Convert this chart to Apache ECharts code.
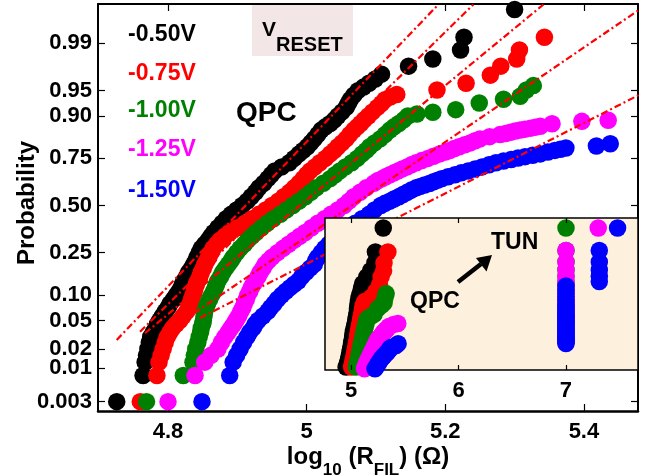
<!DOCTYPE html>
<html>
<head>
<meta charset="utf-8">
<script src="https://cdn.jsdelivr.net/npm/echarts@6/dist/echarts.min.js"></script>
<style>
  html, body { margin: 0; padding: 0; background: #fff; }
  #chart { width: 654px; height: 476px; }
</style>
</head>
<body>
<div id="chart"></div>
<script>
// Cumulative probability of filament resistance, one array per reset voltage.
// Each pair is [log10(R_FIL), cumulative probability].
const v050 = [[4.726,0.0025],[4.764,0.0075],[4.767,0.0125],[4.769,0.016],[4.771,0.02],[4.773,0.025],[4.775,0.03],[4.779,0.035],[4.783,0.04],[4.785,0.045],[4.788,0.05],[4.792,0.057],[4.796,0.065],[4.800,0.072],[4.803,0.08],[4.808,0.09],[4.812,0.10],[4.816,0.11],[4.819,0.12],[4.821,0.13],[4.823,0.14],[4.827,0.155],[4.830,0.17],[4.834,0.185],[4.837,0.20],[4.840,0.215],[4.842,0.23],[4.845,0.25],[4.848,0.27],[4.853,0.29],[4.858,0.31],[4.862,0.33],[4.866,0.35],[4.872,0.375],[4.878,0.40],[4.884,0.425],[4.891,0.45],[4.899,0.475],[4.907,0.50],[4.914,0.525],[4.920,0.55],[4.926,0.575],[4.931,0.60],[4.938,0.625],[4.944,0.65],[4.949,0.67],[4.954,0.69],[4.964,0.71],[4.975,0.73],[4.982,0.75],[4.989,0.77],[4.995,0.785],[5.001,0.80],[5.006,0.815],[5.011,0.83],[5.016,0.845],[5.021,0.86],[5.027,0.87],[5.034,0.88],[5.040,0.89],[5.045,0.90],[5.051,0.91],[5.057,0.92],[5.060,0.928],[5.063,0.935],[5.068,0.943],[5.074,0.95],[5.082,0.955],[5.090,0.96],[5.099,0.965],[5.108,0.97],[5.147,0.977],[5.182,0.982],[5.222,0.987],[5.227,0.992],[5.300,0.9975]];
const v075 = [[4.760,0.0025],[4.784,0.0075],[4.787,0.0125],[4.790,0.016],[4.793,0.02],[4.796,0.025],[4.799,0.03],[4.803,0.035],[4.807,0.04],[4.812,0.045],[4.817,0.05],[4.822,0.057],[4.827,0.065],[4.830,0.072],[4.832,0.08],[4.834,0.09],[4.836,0.10],[4.838,0.11],[4.839,0.12],[4.841,0.13],[4.843,0.14],[4.846,0.155],[4.848,0.17],[4.851,0.185],[4.853,0.20],[4.856,0.215],[4.859,0.23],[4.862,0.25],[4.865,0.27],[4.870,0.29],[4.875,0.31],[4.882,0.33],[4.889,0.35],[4.900,0.375],[4.911,0.40],[4.921,0.425],[4.931,0.45],[4.941,0.475],[4.950,0.50],[4.959,0.525],[4.967,0.55],[4.975,0.575],[4.982,0.60],[4.989,0.625],[4.995,0.65],[5.000,0.67],[5.005,0.69],[5.012,0.71],[5.019,0.73],[5.027,0.75],[5.034,0.77],[5.040,0.785],[5.045,0.80],[5.051,0.815],[5.057,0.83],[5.062,0.845],[5.068,0.86],[5.073,0.87],[5.078,0.88],[5.083,0.89],[5.089,0.90],[5.095,0.91],[5.102,0.92],[5.108,0.928],[5.113,0.935],[5.121,0.94],[5.130,0.944],[5.188,0.951],[5.230,0.960],[5.265,0.969],[5.280,0.977],[5.303,0.982],[5.307,0.987],[5.343,0.992]];
const v100 = [[4.769,0.0025],[4.822,0.0075],[4.836,0.0125],[4.838,0.016],[4.840,0.02],[4.843,0.025],[4.845,0.03],[4.847,0.035],[4.848,0.04],[4.850,0.045],[4.851,0.05],[4.852,0.057],[4.853,0.065],[4.855,0.072],[4.857,0.08],[4.860,0.09],[4.863,0.10],[4.866,0.11],[4.868,0.12],[4.870,0.13],[4.872,0.14],[4.876,0.155],[4.879,0.17],[4.883,0.185],[4.887,0.20],[4.891,0.215],[4.894,0.23],[4.899,0.25],[4.904,0.27],[4.910,0.29],[4.915,0.31],[4.921,0.33],[4.927,0.35],[4.935,0.375],[4.943,0.40],[4.952,0.425],[4.962,0.45],[4.971,0.475],[4.980,0.50],[4.989,0.525],[4.998,0.55],[5.006,0.575],[5.014,0.60],[5.024,0.625],[5.034,0.65],[5.041,0.67],[5.048,0.69],[5.056,0.71],[5.065,0.73],[5.073,0.75],[5.080,0.77],[5.086,0.785],[5.091,0.80],[5.098,0.815],[5.106,0.83],[5.113,0.845],[5.120,0.86],[5.126,0.87],[5.133,0.88],[5.140,0.89],[5.146,0.90],[5.159,0.905],[5.182,0.909],[5.215,0.915],[5.249,0.929],[5.284,0.936],[5.308,0.941],[5.317,0.951],[5.327,0.957]];
const v125 = [[4.800,0.0025],[4.839,0.0075],[4.853,0.0125],[4.862,0.016],[4.872,0.02],[4.877,0.025],[4.882,0.03],[4.887,0.035],[4.891,0.04],[4.895,0.045],[4.898,0.05],[4.902,0.057],[4.905,0.065],[4.908,0.072],[4.910,0.08],[4.913,0.09],[4.915,0.10],[4.918,0.11],[4.920,0.12],[4.923,0.13],[4.926,0.14],[4.930,0.155],[4.933,0.17],[4.937,0.185],[4.940,0.20],[4.945,0.215],[4.950,0.23],[4.958,0.25],[4.966,0.27],[4.974,0.29],[4.982,0.31],[4.990,0.33],[4.998,0.35],[5.007,0.375],[5.016,0.40],[5.026,0.425],[5.035,0.45],[5.045,0.475],[5.054,0.50],[5.061,0.525],[5.068,0.55],[5.077,0.575],[5.086,0.60],[5.097,0.625],[5.103,0.64],[5.109,0.65],[5.114,0.66],[5.120,0.67],[5.126,0.68],[5.132,0.69],[5.138,0.70],[5.145,0.71],[5.151,0.72],[5.158,0.73],[5.166,0.74],[5.175,0.75],[5.183,0.76],[5.192,0.77],[5.200,0.778],[5.207,0.785],[5.213,0.793],[5.220,0.80],[5.228,0.808],[5.236,0.815],[5.243,0.823],[5.250,0.83],[5.264,0.838],[5.279,0.845],[5.287,0.849],[5.294,0.853],[5.301,0.857],[5.308,0.86],[5.315,0.863],[5.323,0.866],[5.330,0.869],[5.337,0.872],[5.354,0.879],[5.397,0.886],[5.435,0.889]];
const v150 = [[4.849,0.0025],[4.889,0.0075],[4.894,0.0125],[4.899,0.016],[4.904,0.02],[4.909,0.025],[4.914,0.03],[4.918,0.035],[4.923,0.04],[4.926,0.045],[4.930,0.05],[4.937,0.057],[4.944,0.065],[4.948,0.072],[4.953,0.08],[4.958,0.09],[4.964,0.10],[4.970,0.11],[4.976,0.12],[4.982,0.13],[4.988,0.14],[4.993,0.155],[4.999,0.17],[5.005,0.185],[5.011,0.20],[5.013,0.215],[5.016,0.23],[5.021,0.25],[5.026,0.27],[5.032,0.29],[5.038,0.31],[5.044,0.33],[5.050,0.35],[5.060,0.375],[5.070,0.40],[5.080,0.425],[5.090,0.45],[5.098,0.475],[5.107,0.50],[5.113,0.5125],[5.120,0.525],[5.126,0.5375],[5.133,0.55],[5.139,0.5625],[5.145,0.575],[5.151,0.5875],[5.158,0.60],[5.164,0.608],[5.170,0.615],[5.177,0.624],[5.183,0.633],[5.189,0.642],[5.195,0.65],[5.204,0.66],[5.214,0.67],[5.223,0.68],[5.233,0.69],[5.243,0.70],[5.253,0.71],[5.263,0.72],[5.273,0.73],[5.284,0.738],[5.295,0.745],[5.305,0.752],[5.315,0.758],[5.326,0.764],[5.337,0.77],[5.348,0.778],[5.358,0.785],[5.366,0.79],[5.374,0.795],[5.418,0.803],[5.438,0.812]];

// Tunnelling-state cells (high resistance), shown only in the wide-range inset.
const tun100 = [[7.0,0.9625],[7.0,0.9675],[7.0,0.9725],[7.0,0.9775],[7.0,0.9825],[7.0,0.9875],[7.0,0.9925],[7.0,0.9975]];
const tun125 = [[7.0,0.8925],[7.0,0.8975],[7.0,0.9025],[7.0,0.9075],[7.0,0.9125],[7.0,0.9175],[7.0,0.9225],[7.0,0.9275],[7.0,0.9325],[7.0,0.9375],[7.0,0.9425],[7.0,0.9475],[7.0,0.9525],[7.0,0.9575],[7.0,0.9625],[7.0,0.9675],[7.0,0.9725],[7.0,0.9775],[7.0,0.9825],[7.0,0.9875],[7.0,0.9925],[7.3,0.9975]];
const tun150 = [[7.0,0.8125],[7.0,0.8175],[7.0,0.8225],[7.0,0.8275],[7.0,0.8325],[7.0,0.8375],[7.0,0.8425],[7.0,0.8475],[7.0,0.8525],[7.0,0.8575],[7.0,0.8625],[7.0,0.8675],[7.0,0.8725],[7.0,0.8775],[7.0,0.8825],[7.0,0.8875],[7.0,0.8925],[7.0,0.8975],[7.0,0.9025],[7.0,0.9075],[7.0,0.9125],[7.0,0.9175],[7.0,0.9225],[7.0,0.9275],[7.0,0.9325],[7.0,0.9375],[7.0,0.9425],[7.0,0.9475],[7.0,0.9525],[7.0,0.9575],[7.0,0.9625],[7.0,0.9675],[7.31,0.9725],[7.31,0.9775],[7.31,0.9825],[7.31,0.9875],[7.31,0.9925],[7.48,0.9975]];

// Fitted lines, each given by two end points [log10(R), probability].
const fit050 = [[4.726,0.0272],[5.190,0.9980]];
const fit075 = [[4.7596,0.0355],[5.2405,0.9980]];
const fit100 = [[4.7668,0.0338],[5.3416,0.9980]];
const fit125 = [[4.838,0.0618],[5.480,0.99748]];
const fit150 = [[4.8462,0.0538],[5.480,0.9436]];

// Axis ticks
const probTickValues = [0.0025, 0.01, 0.02, 0.05, 0.10, 0.25, 0.50, 0.75, 0.90, 0.95, 0.99];
const probTickLabels = ['0.003', '0.01', '0.02', '0.05', '0.10', '0.25', '0.50', '0.75', '0.90', '0.95', '0.99'];
const logTickValues = [4.8, 5.0, 5.2, 5.4];
const logTickLabels = ['4.8', '5', '5.2', '5.4'];
const insetTickValues = [5, 6, 7];
const insetTickLabels = ['5', '6', '7'];

const seriesNames = ['-0.50V', '-0.75V', '-1.00V', '-1.25V', '-1.50V'];
const seriesColors = ['#000000', '#ff0000', '#008000', '#ff00ff', '#0000ff'];

// Inverse of the standard normal CDF (Acklam's rational approximation),
// used to put probabilities on a normal-probability scale.
function qnorm(p) {
  const a = [-3.969683028665376e+01, 2.209460984245205e+02, -2.759285104469687e+02, 1.383577518672690e+02, -3.066479806614716e+01, 2.506628277459239e+00];
  const b = [-5.447609879822406e+01, 1.615858368580409e+02, -1.556989798598866e+02, 6.680131188771972e+01, -1.328068155288572e+01];
  const c = [-7.784894002430293e-03, -3.223964580411365e-01, -2.400758277161838e+00, -2.549732539343734e+00, 4.374664141464968e+00, 2.938163982698783e+00];
  const d = [7.784695709041462e-03, 3.224671290700398e-01, 2.445134137142996e+00, 3.754408661907416e+00];
  const pl = 0.02425, ph = 1 - pl;
  if (p < pl) {
    const q = Math.sqrt(-2 * Math.log(p));
    return (((((c[0]*q+c[1])*q+c[2])*q+c[3])*q+c[4])*q+c[5]) / ((((d[0]*q+d[1])*q+d[2])*q+d[3])*q+1);
  }
  if (p <= ph) {
    const q = p - 0.5, r = q * q;
    return (((((a[0]*r+a[1])*r+a[2])*r+a[3])*r+a[4])*r+a[5])*q / (((((b[0]*r+b[1])*r+b[2])*r+b[3])*r+b[4])*r+1);
  }
  const q = Math.sqrt(-2 * Math.log(1 - p));
  return -(((((c[0]*q+c[1])*q+c[2])*q+c[3])*q+c[4])*q+c[5]) / ((((d[0]*q+d[1])*q+d[2])*q+d[3])*q+1);
}

const toZ = pts => pts.map(([x, p]) => [x, qnorm(p)]);
const probTickZ = probTickValues.map(qnorm);
const labelFor = (values, labels) => v => {
  const i = values.findIndex(t => Math.abs(t - v) < 1e-6);
  return i >= 0 ? labels[i] : '';
};

const FONT = '"Liberation Sans", Arial, Helvetica, sans-serif';
const tickFont = { fontFamily: FONT, fontWeight: 'bold', fontSize: 22, color: '#000' };
const DOT = 17.5;

const mainSets = [v050, v075, v100, v125, v150];
const tunSets = [[], [], tun100, tun125, tun150];
const fitSets = [fit050, fit075, fit100, fit125, fit150];

const series = [];
mainSets.forEach((pts, i) => {
  series.push({
    name: seriesNames[i], type: 'scatter', xAxisIndex: 0, yAxisIndex: 0,
    data: toZ(pts), symbolSize: DOT, itemStyle: { color: seriesColors[i], opacity: 1 }, z: 2
  });
});
fitSets.forEach(pts => {
  series.push({
    type: 'line', xAxisIndex: 0, yAxisIndex: 0, data: toZ(pts), symbol: 'none', silent: true,
    lineStyle: { color: '#ff0000', width: 2.2, type: [7, 3, 2, 3] }, z: 3
  });
});
mainSets.forEach((pts, i) => {
  series.push({
    name: seriesNames[i] + ' (inset)', type: 'scatter', xAxisIndex: 2, yAxisIndex: 2,
    data: toZ(pts.concat(tunSets[i])), symbolSize: DOT, itemStyle: { color: seriesColors[i], opacity: 1 }, z: 20
  });
});

const text = (x, y, str, size, color, extra) => Object.assign({
  type: 'text', x, y, z: 30,
  style: { text: str, fontFamily: FONT, fontWeight: 'bold', fontSize: size, fill: color, align: 'left', verticalAlign: 'middle' }
}, extra || {});

const legendY = [35, 74, 111, 150, 190.7];
const graphicEls = [
  { type: 'rect', z: 10, shape: { x: 325, y: 218, width: 313, height: 152 }, style: { fill: '#fdf0dc', stroke: '#000', lineWidth: 1.5 } },
  { type: 'rect', z: 1, shape: { x: 252, y: 5, width: 101, height: 51 }, style: { fill: '#f2e6e6' } },
  {
    type: 'text', x: 262, y: 30, z: 30,
    style: {
      text: '{v|V}{r|RESET}', align: 'left', verticalAlign: 'middle',
      rich: {
        v: { fontFamily: FONT, fontWeight: 'bold', fontSize: 21, lineHeight: 50, fill: '#000' },
        r: { fontFamily: FONT, fontWeight: 'bold', fontSize: 20, lineHeight: 17, verticalAlign: 'bottom', fill: '#000' }
      }
    }
  },
  text(236, 113, 'QPC', 28, '#000'),
  text(491, 243, 'TUN', 23, '#000'),
  text(410, 302, 'QPC', 23, '#000'),
  { type: 'line', z: 30, shape: { x1: 458, y1: 282, x2: 481, y2: 264 }, style: { stroke: '#000', lineWidth: 4.5 } },
  { type: 'polygon', z: 30, shape: { points: [[492, 255], [476, 258], [486.5, 271.5]] }, style: { fill: '#000' } },
  {
    type: 'text', x: 27, y: 203, z: 30, rotation: Math.PI / 2,
    style: { text: 'Probability', fontFamily: FONT, fontWeight: 'bold', fontSize: 24, fill: '#000', align: 'center', verticalAlign: 'middle' }
  },
  {
    type: 'text', x: 368, y: 457, z: 30,
    style: {
      text: '{m|log}{s|10}{m| (R}{s|FIL}{m|) (Ω)}', align: 'center', verticalAlign: 'middle',
      rich: {
        m: { fontFamily: FONT, fontWeight: 'bold', fontSize: 24, lineHeight: 44, fill: '#000' },
        s: { fontFamily: FONT, fontWeight: 'bold', fontSize: 17, lineHeight: 18, verticalAlign: 'bottom', fill: '#000' }
      }
    }
  }
];
seriesNames.forEach((n, i) => graphicEls.push(text(128, legendY[i], n, 23, seriesColors[i])));

const chart = echarts.init(document.getElementById('chart'), null, { renderer: 'canvas' });
chart.setOption({
  animation: false,
  backgroundColor: '#fff',
  grid: [
    { left: 98, top: 4, width: 540, height: 407, containLabel: false, outerBoundsMode: 'none' },
    { left: 325, top: 218, width: 313, height: 152, containLabel: false, outerBoundsMode: 'none' }
  ],
  xAxis: [
    {
      gridIndex: 0, type: 'value', position: 'bottom', min: 4.699, max: 5.478,
      axisLine: { show: true, onZero: false, lineStyle: { color: '#000', width: 2.5 } },
      axisTick: { show: true, inside: true, length: 7, customValues: logTickValues, lineStyle: { color: '#000', width: 1.2 } },
      axisLabel: Object.assign({ show: true, margin: 10, customValues: logTickValues, formatter: labelFor(logTickValues, logTickLabels) }, tickFont),
      splitLine: { show: false }
    },
    {
      gridIndex: 0, type: 'value', position: 'top', min: 4.699, max: 5.478,
      axisLine: { show: true, onZero: false, lineStyle: { color: '#000', width: 2 } },
      axisTick: { show: true, inside: true, length: 7, customValues: logTickValues, lineStyle: { color: '#000', width: 1.2 } },
      axisLabel: { show: false }, splitLine: { show: false }
    },
    {
      gridIndex: 1, type: 'value', position: 'bottom', min: 4.758, max: 7.67, z: 21,
      axisLine: { show: false },
      axisTick: { show: true, inside: true, length: 5, customValues: insetTickValues, lineStyle: { color: '#000', width: 1.2 } },
      axisLabel: Object.assign({ show: true, margin: 10, customValues: insetTickValues, formatter: labelFor(insetTickValues, insetTickLabels) }, tickFont),
      splitLine: { show: false }
    },
    {
      gridIndex: 1, type: 'value', position: 'top', min: 4.758, max: 7.67, z: 21,
      axisLine: { show: false },
      axisTick: { show: true, inside: true, length: 5, customValues: insetTickValues, lineStyle: { color: '#000', width: 1.2 } },
      axisLabel: { show: false }, splitLine: { show: false }
    }
  ],
  yAxis: [
    {
      gridIndex: 0, type: 'value', position: 'left', min: -2.941, max: 2.885,
      axisLine: { show: true, onZero: false, lineStyle: { color: '#000', width: 2 } },
      axisTick: { show: true, inside: true, length: 7, customValues: probTickZ, lineStyle: { color: '#000', width: 1.2 } },
      axisLabel: Object.assign({ show: true, margin: 6, customValues: probTickZ, formatter: labelFor(probTickZ, probTickLabels) }, tickFont),
      splitLine: { show: false }
    },
    {
      gridIndex: 0, type: 'value', position: 'right', min: -2.941, max: 2.885,
      axisLine: { show: true, onZero: false, lineStyle: { color: '#000', width: 2 } },
      axisTick: { show: true, inside: true, length: 7, customValues: probTickZ, lineStyle: { color: '#000', width: 1.2 } },
      axisLabel: { show: false }, splitLine: { show: false }
    },
    {
      gridIndex: 1, type: 'value', position: 'left', min: 0.448, max: 2.973, z: 21,
      axisLine: { show: false }, axisTick: { show: false }, axisLabel: { show: false }, splitLine: { show: false }
    }
  ],
  graphic: { elements: graphicEls },
  series
});
</script>
</body>
</html>
